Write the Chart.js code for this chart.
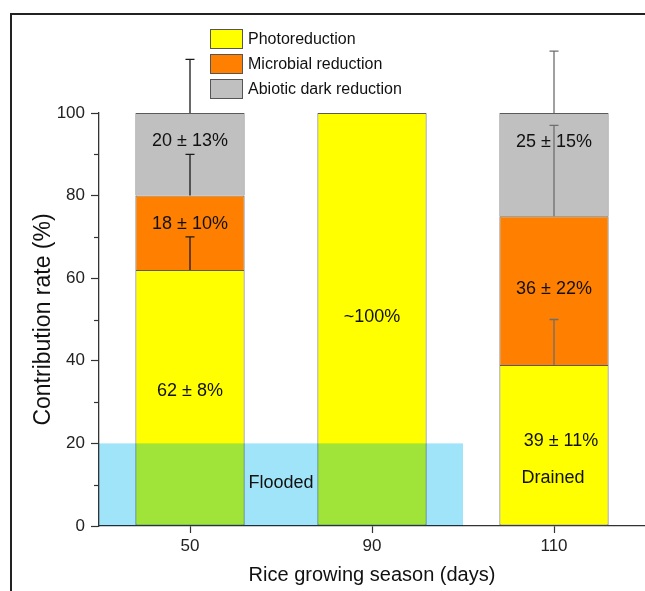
<!DOCTYPE html>
<html>
<head>
<meta charset="utf-8">
<script src="https://cdn.jsdelivr.net/npm/chart.js@4"></script>
<style>
  html, body { margin: 0; padding: 0; background: #fff; }
  #wrap { width: 645px; height: 591px; }
</style>
</head>
<body>
<div id="wrap"><canvas id="c" width="645" height="591"></canvas></div>
<script>
// ---- data ----
const categories = ['50', '90', '110'];
const photoreduction = [62, 100, 39];
const microbialReduction = [18, null, 36];
const abioticDarkReduction = [20, null, 25];
const photoErr = [8, null, 11];
const microbialErr = [10, null, 22];
const abioticErr = [13, null, 15];
const photoLabels = ['62 ± 8%', '~100%', '39 ± 11%'];
const microbialLabels = ['18 ± 10%', '', '36 ± 22%'];
const abioticLabels = ['20 ± 13%', '', '25 ± 15%'];
const seriesNames = ['Photoreduction', 'Microbial reduction', 'Abiotic dark reduction'];
const yMinorTicks = [10, 30, 50, 70, 90];
const floodedTop = 20;          // y value of flooded band top
const floodedEndIndex = 1.5;    // category index where band ends
const floodedText = 'Flooded';
const drainedText = 'Drained';

const FONT = "'Liberation Sans', Arial, sans-serif";

const annotPlugin = {
  id: 'annot',
  beforeDraw(chart) {
    const ctx = chart.ctx;
    ctx.save();
    ctx.fillStyle = '#fff';
    ctx.fillRect(0, 0, chart.width, chart.height);
    ctx.restore();
  },
  afterDatasetsDraw(chart) {
    const ctx = chart.ctx;
    const x = chart.scales.x, y = chart.scales.y;
    const o = chart.options.plugins.annot;

    // flooded band (multiply blend, then lift blue channel a little)
    ctx.save();
    const bx0 = x.left, bx1 = x.getPixelForValue(floodedEndIndex);
    const by0 = y.getPixelForValue(floodedTop), by1 = y.getPixelForValue(0);
    ctx.globalCompositeOperation = 'multiply';
    ctx.fillStyle = '#A0E4FA';
    ctx.fillRect(bx0, by0, bx1 - bx0, by1 - by0);
    ctx.globalCompositeOperation = 'lighten';
    ctx.fillStyle = 'rgb(0,0,58)';
    ctx.fillRect(bx0, by0, bx1 - bx0, by1 - by0);
    ctx.restore();

    // error bars
    const errSets = [photoErr, microbialErr, abioticErr];
    ctx.save();
    ctx.lineWidth = 1.3;
    errSets.forEach((errs, di) => {
      const meta = chart.getDatasetMeta(di);
      errs.forEach((e, i) => {
        if (e == null) return;
        const el = meta.data[i];
        const top = el.y;
        const cx = el.x;
        const py = y.getPixelForValue(y.getValueForPixel(top) + e);
        ctx.strokeStyle = o.errColors[i];
        ctx.beginPath();
        ctx.moveTo(cx, top);
        ctx.lineTo(cx, py);
        ctx.moveTo(cx - 4.5, py);
        ctx.lineTo(cx + 4.5, py);
        ctx.stroke();
      });
    });
    ctx.restore();

    // segment labels
    ctx.save();
    ctx.font = `18px ${FONT}`;
    ctx.fillStyle = '#111';
    ctx.textAlign = 'center';
    ctx.textBaseline = 'middle';
    const labelSets = [photoLabels, microbialLabels, abioticLabels];
    labelSets.forEach((labs, di) => {
      labs.forEach((t, i) => {
        if (!t) return;
        const yv = o.labelY[di][i];
        const dx = o.labelDx[di][i];
        ctx.fillText(t, x.getPixelForValue(i) + dx, y.getPixelForValue(yv));
      });
    });
    ctx.fillText(floodedText, x.getPixelForValue(0.5), y.getPixelForValue(o.floodedY));
    ctx.fillText(drainedText, x.getPixelForValue(2) - 1, y.getPixelForValue(o.drainedY));
    ctx.restore();
  },
  afterDraw(chart) {
    const ctx = chart.ctx;
    const y = chart.scales.y;
    // minor ticks
    ctx.save();
    ctx.strokeStyle = '#333';
    ctx.lineWidth = 1.2;
    yMinorTicks.forEach(v => {
      const py = Math.round(y.getPixelForValue(v)) + 0.5;
      ctx.beginPath();
      ctx.moveTo(y.right - 5, py);
      ctx.lineTo(y.right, py);
      ctx.stroke();
    });
    ctx.restore();

    // legend
    ctx.save();
    const lx = 210, ly0 = 29, bw = 33, bh = 20, step = 25;
    chart.data.datasets.forEach((ds, i) => {
      const yy = ly0 + i * step;
      ctx.fillStyle = ds.backgroundColor;
      ctx.fillRect(lx, yy, bw, bh);
      ctx.strokeStyle = '#555';
      ctx.lineWidth = 1;
      ctx.strokeRect(lx + 0.5, yy + 0.5, bw - 1, bh - 1);
      ctx.fillStyle = '#111';
      ctx.font = `16px ${FONT}`;
      ctx.textAlign = 'left';
      ctx.textBaseline = 'middle';
      ctx.fillText(ds.label, lx + bw + 5, yy + bh / 2 + 1);
    });
    ctx.restore();

    // outer frame
    ctx.save();
    ctx.strokeStyle = '#222';
    ctx.lineWidth = 2;
    ctx.strokeRect(11, 14, 1000, 1000);
    ctx.restore();
  }
};

new Chart(document.getElementById('c'), {
  type: 'bar',
  data: {
    labels: categories,
    datasets: [
      { label: seriesNames[0], data: photoreduction, backgroundColor: '#FFFF00', borderColor: '#5a5a5a', borderWidth: 1, borderSkipped: false },
      { label: seriesNames[1], data: microbialReduction, backgroundColor: '#FF8000', borderColor: '#5a5a5a', borderWidth: 1, borderSkipped: 'start' },
      { label: seriesNames[2], data: abioticDarkReduction, backgroundColor: '#C0C0C0', borderColor: '#5a5a5a', borderWidth: 1, borderSkipped: 'start' }
    ]
  },
  options: {
    responsive: false,
    animation: false,
    devicePixelRatio: 1,
    clip: false,
    categoryPercentage: 1,
    barPercentage: 0.6,
    layout: { padding: { top: 113, left: 0, right: 0, bottom: 0 } },
    plugins: {
      legend: { display: false },
      tooltip: { enabled: false },
      annot: {
        errColors: ['#1a1a1a', '#1a1a1a', '#6e6e6e'],
        labelY: [[32.8, 50.6, 20.6], [73.1, null, 57.4], [93.2, null, 92.9]],
        labelDx: [[0, 0, 7], [0, 0, 0], [0, 0, 0]],
        floodedY: 10.3,
        drainedY: 11.5
      }
    },
    scales: {
      x: {
        stacked: true,
        offset: true,
        afterFit(s) { s.height = 65; },
        grid: { display: true, drawOnChartArea: false, drawTicks: true, tickLength: 7, offset: false, tickColor: '#333', tickWidth: 1.2 },
        border: { display: true, color: '#333', width: 1.3 },
        ticks: { color: '#222', font: { size: 17, family: FONT }, padding: 3 },
        title: { display: true, text: 'Rice growing season (days)', color: '#111', font: { size: 20, family: FONT }, padding: { top: 0, bottom: 4 } }
      },
      y: {
        stacked: true,
        min: 0,
        max: 100,
        afterFit(s) { s.width = 99; },
        grid: { display: true, drawOnChartArea: false, drawTicks: true, tickLength: 8, tickColor: '#333', tickWidth: 1.2 },
        border: { display: true, color: '#333', width: 1.3 },
        ticks: { stepSize: 20, color: '#222', font: { size: 17, family: FONT }, padding: 6 },
        title: { display: true, text: 'Contribution rate (%)', color: '#111', font: { size: 23, family: FONT }, padding: { top: 30, bottom: 0 } }
      }
    }
  },
  plugins: [annotPlugin]
});
</script>
</body>
</html>
